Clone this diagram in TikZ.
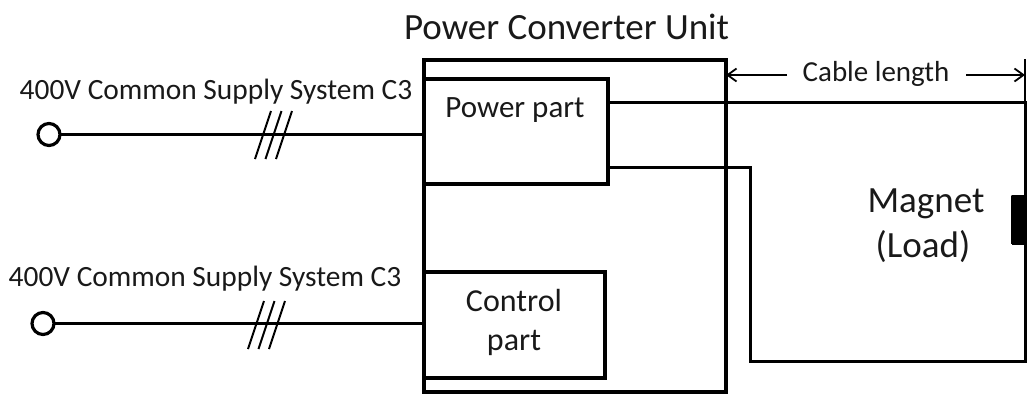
\documentclass[tikz,border=0pt]{standalone}
\usepackage{fontspec}
\setmainfont{Carlito}
\usetikzlibrary{arrows.meta}
\usetikzlibrary{calc}
\begin{document}
\begin{tikzpicture}[
		x=1pt, y=-1pt,
		box/.style={draw, rectangle, line width=4.3pt, inner sep=0pt, outer sep=0pt},
		wire/.style={line width=3pt},
		tick/.style={line width=2pt},
		dim/.style={line width=1.8pt, -{Straight Barb[length=9pt, width=13pt, line width=1.8pt]}},
		term/.style={draw, circle, line width=3.2pt, inner sep=0pt, minimum size=22pt, outer sep=0pt},
		lbl/.style={inner sep=0pt, font=\fontsize{29.4}{34}\selectfont, text=black!90},
		big/.style={inner sep=0pt, font=\fontsize{37}{45}\selectfont, align=center, text=black!90}
	]
	\path[use as bounding box] (0,0) rectangle (1027,394);

	\node[box, minimum width=302pt, minimum height=332pt] (unit) at (575,226) {};
	\node[box, minimum width=184pt, minimum height=105pt] (power) at (516,131.5) {};
	\node[box, minimum width=181pt, minimum height=106pt] (control) at (514.5,325) {};
	\node[term] (supplyA) at (49,134.5) {};
	\node[term] (supplyB) at (43,323.5) {};
	\coordinate (loadTop) at (1025,102);
	\coordinate (loadBot) at (1025,361);
	\coordinate (returnTop) at (750,167);
	\coordinate (tickTop) at (1025,59);
	\coordinate (dimLeft) at (787,75);
	\coordinate (dimRight) at (966,75);
	\node[draw, fill, rectangle, rounded corners=1pt, line width=0pt, inner sep=0pt, outer sep=0pt, minimum width=14pt, minimum height=49pt] (coil) at (1018,219.5) {};

	\node[lbl, font=\fontsize{37}{42}\selectfont] (title) at (566.5,27) {Power Converter Unit};
	\node[lbl] (labelA) at (216,91.5) {400V Common Supply System C3};
	\node[lbl] (labelB) at (205,278.5) {400V Common Supply System C3};
	\node[lbl, font=\fontsize{31}{36}\selectfont] (powerlabel) at (515,110) {Power part};
	\node[lbl, align=center, font=\fontsize{32}{39}\selectfont] (controllabel) at (514,322) {Control\\part};
	\node[big] (magnet) at (926,226) {Magnet\\\hspace*{-6pt}(Load)};
	\node[lbl, font=\fontsize{29}{34}\selectfont] (cable) at (876,74) {Cable length};

	\draw[wire] (supplyA) -- (unit.west |- supplyA);
	\draw[wire] (supplyB) -- (unit.west |- supplyB);
	\draw[wire] (power.east |- loadTop) -- (loadTop) -- (loadBot) -- (returnTop |- loadBot) -- (returnTop) -- (power.east |- returnTop);

	% three phase marks
	\foreach \dx in {0,10.5,21} {
		\draw[tick] ($(255,159)+(\dx,0)$) -- ($(271,111)+(\dx,0)$);
		\draw[tick] ($(248,349)+(\dx,0)$) -- ($(264,301)+(\dx,0)$);
	}

	\draw[dim] (dimLeft) -- (unit.east |- dimLeft);
	\draw[dim] (dimRight) -- (tickTop |- dimRight);
	\draw[tick] (tickTop) -- (loadTop);
\end{tikzpicture}
\end{document}
